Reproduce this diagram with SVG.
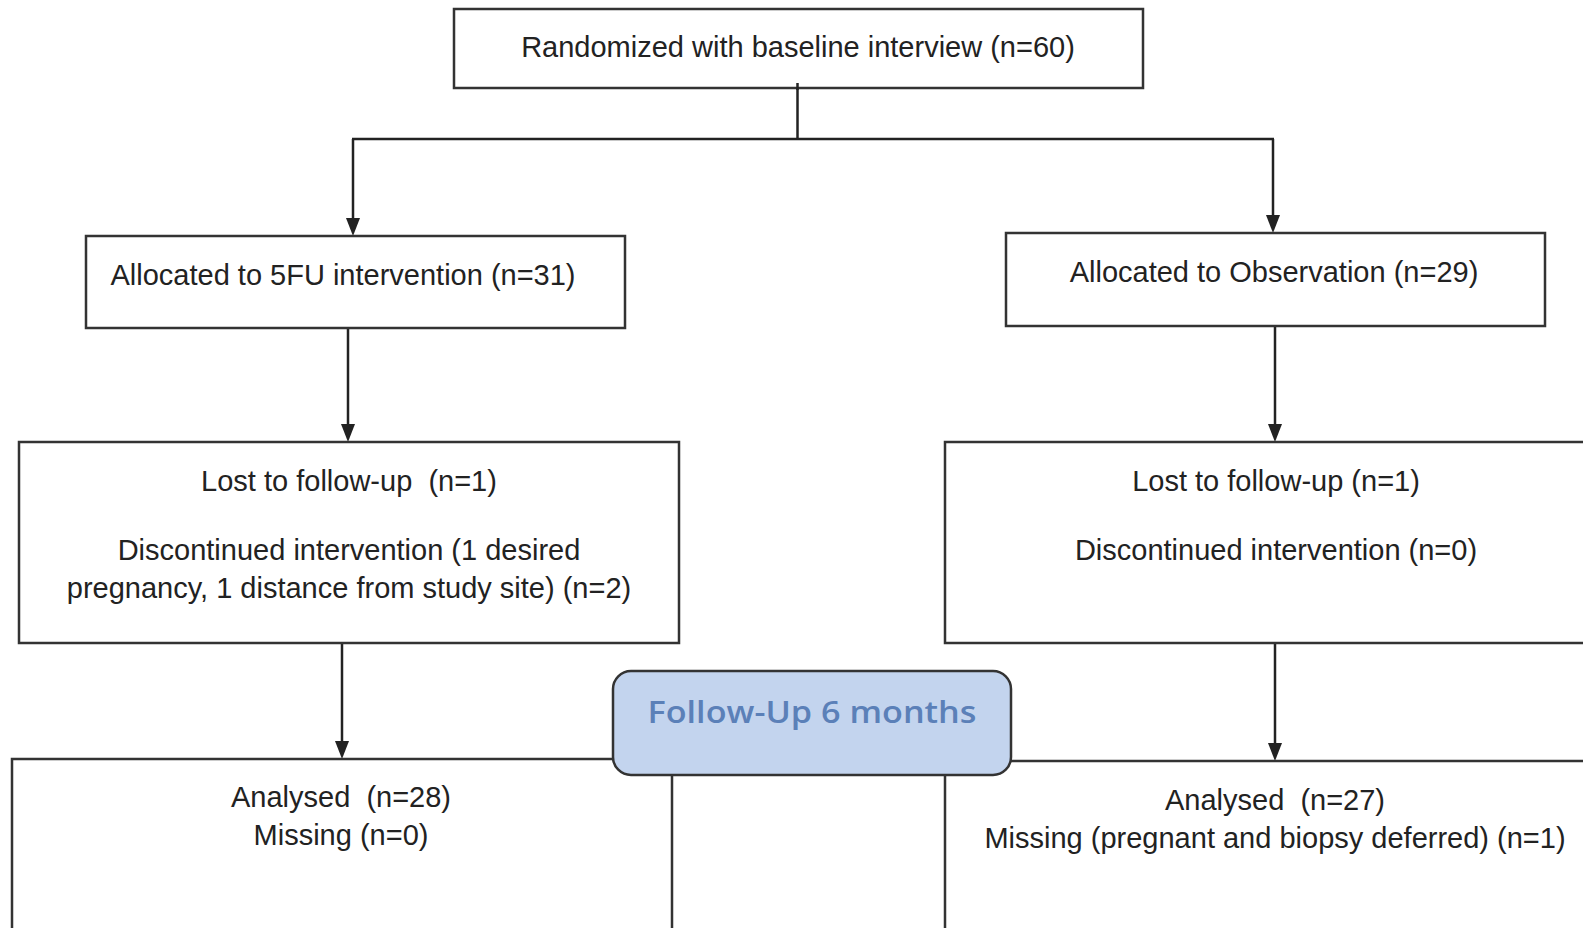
<svg xmlns="http://www.w3.org/2000/svg" width="1583" height="928" viewBox="0 0 1583 928">
<style>
.box{fill:#ffffff;stroke:#333333;stroke-width:2.5}
.t{font-family:"Liberation Sans",Arial,sans-serif;font-size:29px;fill:#222222;text-anchor:middle}
.ln{fill:none;stroke:#222222;stroke-width:2.5}
.ah{fill:#222222}
.fu{fill:#c3d4ee;stroke:#333333;stroke-width:2.5}
.fut{font-family:"Open Sans",Lato,sans-serif;font-weight:600;font-size:31px;fill:#5b80b8;text-anchor:middle}
</style>
<rect width="1583" height="928" fill="#ffffff"/>
<g id="connectors">
<line class="ln" x1="797.5" y1="83" x2="797.5" y2="139"/>
<line class="ln" x1="352" y1="139" x2="1274" y2="139"/>
<path class="ln" d="M353,139 V220"/><path class="ah" d="M346,218 L360,218 L353,236 Z"/>
<path class="ln" d="M1273,139 V217"/><path class="ah" d="M1266,215 L1280,215 L1273,233 Z"/>
<path class="ln" d="M348,328 V426"/><path class="ah" d="M341,424 L355,424 L348,442 Z"/>
<path class="ln" d="M1275,326 V426"/><path class="ah" d="M1268,424 L1282,424 L1275,442 Z"/>
<path class="ln" d="M342,643 V743"/><path class="ah" d="M335,741 L349,741 L342,759 Z"/>
<path class="ln" d="M1275,643 V745"/><path class="ah" d="M1268,743 L1282,743 L1275,761 Z"/>
</g>
<g id="randomized">
<rect class="box" x="454" y="9" width="689" height="79"/>
<text class="t" x="798" y="57">Randomized with baseline interview (n=60)</text>
</g>
<line class="ln" x1="797.5" y1="83" x2="797.5" y2="90"/>
<g id="alloc-5fu">
<rect class="box" x="86" y="236" width="539" height="92"/>
<text class="t" x="343" y="285">Allocated to 5FU intervention (n=31)</text>
</g>
<g id="alloc-obs">
<rect class="box" x="1006" y="233" width="539" height="93"/>
<text class="t" x="1274" y="282">Allocated to Observation (n=29)</text>
</g>
<g id="lost-5fu">
<rect class="box" x="19" y="442" width="660" height="201"/>
<text class="t" x="349" y="491" xml:space="preserve">Lost to follow-up  (n=1)</text>
<text class="t" x="349" y="560">Discontinued intervention (1 desired</text>
<text class="t" x="349" y="598">pregnancy, 1 distance from study site) (n=2)</text>
</g>
<g id="lost-obs">
<rect class="box" x="945" y="442" width="660" height="201"/>
<text class="t" x="1276" y="491">Lost to follow-up (n=1)</text>
<text class="t" x="1276" y="560">Discontinued intervention (n=0)</text>
</g>
<g id="analysed-5fu">
<rect class="box" x="12" y="759" width="660" height="200"/>
<text class="t" x="341" y="807" xml:space="preserve">Analysed  (n=28)</text>
<text class="t" x="341" y="845">Missing (n=0)</text>
</g>
<g id="analysed-obs">
<rect class="box" x="945" y="761" width="660" height="200"/>
<text class="t" x="1275" y="810" xml:space="preserve">Analysed  (n=27)</text>
<text class="t" x="1275" y="848">Missing (pregnant and biopsy deferred) (n=1)</text>
</g>
<g id="followup">
<rect class="fu" x="613" y="671" width="398" height="104" rx="18" ry="18"/>
<text class="fut" x="812" y="723" textLength="329" lengthAdjust="spacingAndGlyphs">Follow-Up 6 months</text>
</g>
</svg>
